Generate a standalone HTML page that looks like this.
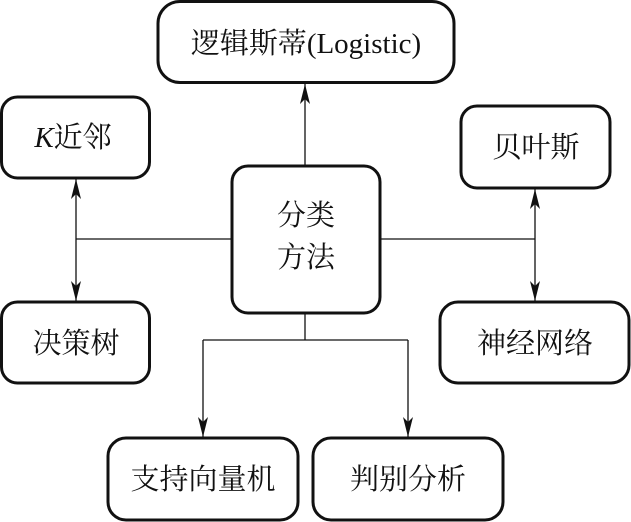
<!DOCTYPE html>
<html><head><meta charset="utf-8"><style>
html,body{margin:0;padding:0;background:#fff;}
svg{display:block;}
text{font-family:"Liberation Serif","Noto Serif CJK SC",serif;font-size:29px;fill:#111;text-anchor:middle;dominant-baseline:central;}
</style></head><body>
<svg width="631" height="522" viewBox="0 0 631 522" xmlns="http://www.w3.org/2000/svg">
<defs>
<marker id="a" markerWidth="20" markerHeight="10" refX="20" refY="5" orient="auto-start-reverse" markerUnits="userSpaceOnUse" viewBox="0 0 20 10">
<path d="M0,0 L20,5 L0,10 L5,5 Z" fill="#111"/>
</marker>
</defs>
<g fill="none" stroke="#111" stroke-width="1.3">
<line x1="305" y1="165" x2="305" y2="84" marker-end="url(#a)"/>
<line x1="76" y1="239" x2="232" y2="239"/>
<line x1="380" y1="239" x2="535" y2="239"/>
<line x1="76" y1="239" x2="76" y2="179" marker-end="url(#a)"/>
<line x1="76" y1="239" x2="76" y2="301" marker-end="url(#a)"/>
<line x1="535" y1="239" x2="535" y2="189" marker-end="url(#a)"/>
<line x1="535" y1="239" x2="535" y2="301" marker-end="url(#a)"/>
<line x1="305" y1="313" x2="305" y2="340"/>
<line x1="203" y1="340" x2="408" y2="340"/>
<line x1="203" y1="340" x2="203" y2="437" marker-end="url(#a)"/>
<line x1="408" y1="340" x2="408" y2="437" marker-end="url(#a)"/>
</g>
<g fill="#fff" stroke="#111" stroke-width="3">
<rect x="158" y="1.5" width="296" height="81" rx="22"/>
<rect x="1.5" y="97" width="148" height="81" rx="16"/>
<rect x="461" y="106" width="149" height="82" rx="16"/>
<rect x="232" y="166" width="148" height="147" rx="16"/>
<rect x="1.5" y="302" width="148" height="81" rx="16"/>
<rect x="440" y="302" width="189" height="81" rx="18"/>
<rect x="108" y="438" width="190" height="82" rx="18"/>
<rect x="313" y="438" width="190" height="82" rx="18"/>
</g>
<text x="306" y="44">逻辑斯蒂(Logistic)</text>
<text x="73" y="138"><tspan font-style="italic">K</tspan>近邻</text>
<text x="536" y="148">贝叶斯</text>
<text x="306" y="216">分类</text>
<text x="306" y="258">方法</text>
<text x="76" y="344">决策树</text>
<text x="535" y="344">神经网络</text>
<text x="203" y="480">支持向量机</text>
<text x="408" y="480">判别分析</text>
</svg>
</body></html>
